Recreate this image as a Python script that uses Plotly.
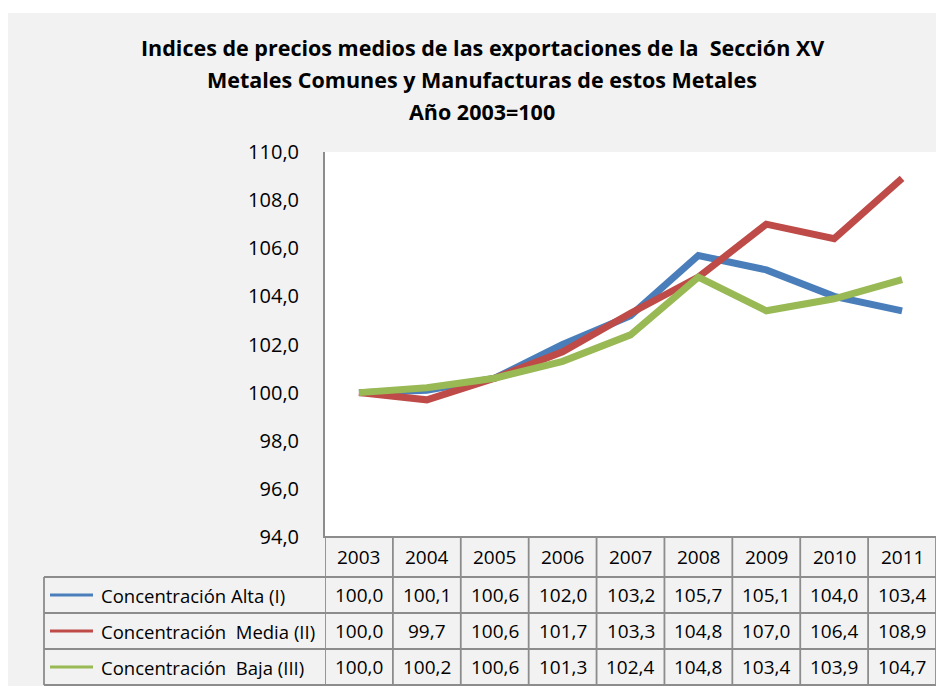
import plotly.graph_objects as go

years = ["2003", "2004", "2005", "2006", "2007", "2008", "2009", "2010", "2011"]
alta = [100.0, 100.1, 100.6, 102.0, 103.2, 105.7, 105.1, 104.0, 103.4]
media = [100.0, 99.7, 100.6, 101.7, 103.3, 104.8, 107.0, 106.4, 108.9]
baja = [100.0, 100.2, 100.6, 101.3, 102.4, 104.8, 103.4, 103.9, 104.7]
series_names = ["Concentración Alta (I)", "Concentración\u00a0\u00a0Media (II)", "Concentración\u00a0\u00a0Baja (III)"]
series_values = [alta, media, baja]
series_colors = ["#4A7EBB", "#BE4B48", "#98B954"]
title_lines = [
    "Indices de precios medios de las exportaciones de la\u00a0\u00a0Sección XV",
    "Metales Comunes y Manufacturas de estos Metales",
    "Año 2003=100",
]
y_ticks = [94, 96, 98, 100, 102, 104, 106, 108, 110]

OFF = 8  # page body margin
W, H = 944 - OFF, 686 - OFF
L, T = 325 - OFF, 152 - OFF
R = W - (936 - OFF)
B = H - (537 - OFF)
PW = W - L - R
PH = H - T - B

def px_x(p):  # screen px -> paper
    return (p - OFF - L) / PW

def px_y(p):
    return (H - B - (p - OFF)) / PH

FONT = "Open Sans, Lato, DejaVu Sans, sans-serif"
GRID = "#8C8C8C"
xi = list(range(len(years)))

fig = go.Figure()
for name, vals, col in zip(series_names, series_values, series_colors):
    fig.add_trace(go.Scatter(x=xi, y=vals, mode="lines", name=name,
                             line=dict(color=col, width=7), showlegend=False))

shapes = []
shapes.append(dict(type="rect", xref="paper", yref="paper", x0=px_x(8), x1=px_x(939),
                   y0=px_y(700), y1=px_y(13), fillcolor="#F2F2F2", line=dict(width=0), layer="below"))
shapes.append(dict(type="rect", xref="paper", yref="paper", x0=0, x1=1, y0=0, y1=1,
                   fillcolor="white", line=dict(width=0), layer="below"))

row_edges = [537, 577, 613, 649, 685]
lw = 1.8
shapes.append(dict(type="line", xref="paper", yref="paper", x0=0, x1=1,
                   y0=px_y(row_edges[0]), y1=px_y(row_edges[0]), line=dict(color=GRID, width=lw)))
for ry in row_edges[1:]:
    shapes.append(dict(type="line", xref="paper", yref="paper", x0=px_x(44), x1=1,
                       y0=px_y(ry), y1=px_y(ry), line=dict(color=GRID, width=lw)))
shapes.append(dict(type="line", xref="paper", yref="paper", x0=px_x(44), x1=px_x(44),
                   y0=px_y(row_edges[1]), y1=px_y(row_edges[-1]), line=dict(color=GRID, width=lw)))
for i in range(len(years) + 1):
    shapes.append(dict(type="line", xref="x", yref="paper", x0=i - 0.5, x1=i - 0.5,
                       y0=px_y(row_edges[0]), y1=px_y(row_edges[-1]), line=dict(color=GRID, width=lw)))

annotations = []
for k, line in enumerate(title_lines):
    annotations.append(dict(text="<b>" + line + "</b>", xref="paper", yref="paper",
                            x=px_x(482), y=px_y([47, 80, 111][k]), xanchor="center", yanchor="middle",
                            showarrow=False, font=dict(family=FONT, size=21.5, color="black")))

centers = [(row_edges[j] + row_edges[j + 1]) / 2 for j in range(4)]
NUM = 19
for i, yr in enumerate(years):
    annotations.append(dict(text=yr, xref="x", yref="paper", x=i, y=px_y(centers[0]),
                            xanchor="center", yanchor="middle", showarrow=False,
                            font=dict(family=FONT, size=NUM, color="black")))
for r, (name, vals, col) in enumerate(zip(series_names, series_values, series_colors)):
    cy = px_y(centers[r + 1])
    shapes.append(dict(type="line", xref="paper", yref="paper", x0=px_x(50), x1=px_x(93),
                       y0=cy, y1=cy, line=dict(color=col, width=3)))
    annotations.append(dict(text=name, xref="paper", yref="paper", x=px_x(99), y=cy,
                            xanchor="left", yanchor="middle", showarrow=False,
                            font=dict(family=FONT, size=18.5, color="black")))
    for i, v in enumerate(vals):
        annotations.append(dict(text=f"{v:.1f}".replace(".", ","), xref="x", yref="paper", x=i, y=cy,
                                xanchor="center", yanchor="middle", showarrow=False,
                                font=dict(family=FONT, size=NUM, color="black")))

fig.update_layout(
    width=W, height=H,
    margin=dict(l=L, r=R, t=T, b=B, autoexpand=False),
    paper_bgcolor="white", plot_bgcolor="white",
    separators=",.",
    shapes=shapes, annotations=annotations,
    xaxis=dict(range=[-0.5, len(years) - 0.5], showticklabels=False, showgrid=False,
               zeroline=False, showline=True, linecolor=GRID, linewidth=0, ticks=""),
    yaxis=dict(range=[94, 110], tickvals=y_ticks, tickformat=".1f", showgrid=False, zeroline=False,
               showline=True, linecolor=GRID, linewidth=2, ticks="", ticklabelstandoff=20,
               tickfont=dict(family=FONT, size=20, color="black")),
)
fig.write_html("out.html")
